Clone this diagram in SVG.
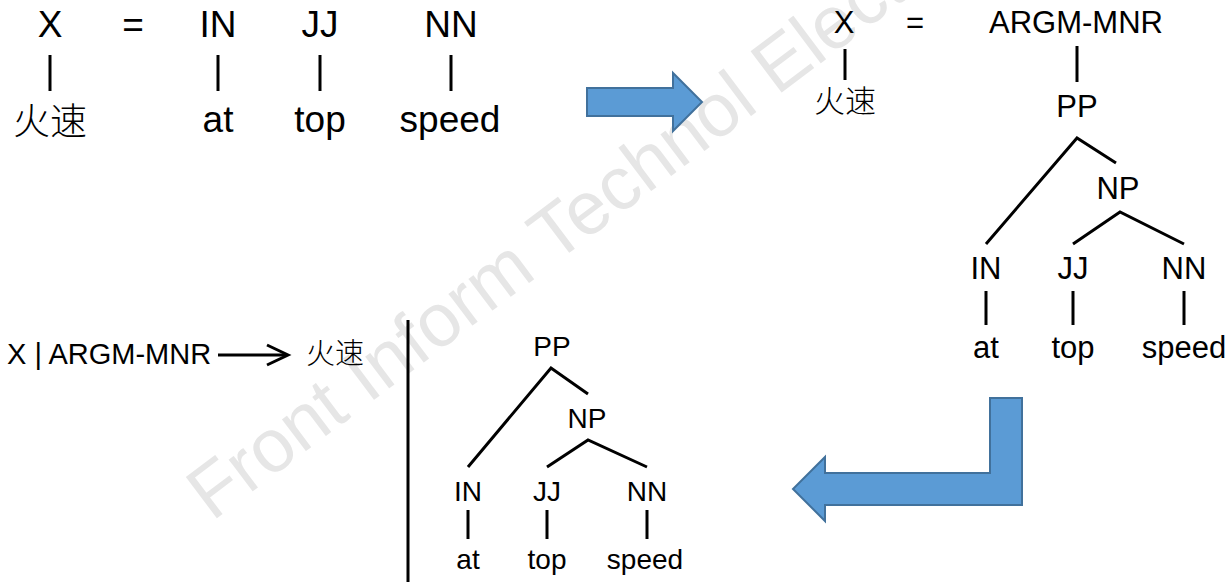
<svg xmlns="http://www.w3.org/2000/svg" width="1228" height="582" viewBox="0 0 1228 582">
<style>
.t{font-family:"Liberation Sans",Arial,"Noto Sans CJK SC",sans-serif;fill:#000;text-anchor:middle}
.cjk{font-family:"Noto Sans CJK SC","Liberation Sans",sans-serif;font-weight:300}
.big{font-size:37px}
.mid{font-size:31px}
.sm{font-size:28px}
.rule{font-size:29px;text-anchor:start}
.ln{stroke:#000;stroke-width:3;fill:none;stroke-linecap:butt}
.barrow{fill:#5b9bd5;stroke:#41719c;stroke-width:2}
.wm{font-family:"Liberation Sans",Arial,sans-serif;font-size:75px;fill:#e6e6e6}
</style>
<rect width="1228" height="582" fill="#fff"/>
<text class="wm" transform="translate(212,522) rotate(-37)">Front Inform Technol Electr</text>

<g id="top-left">
  <text class="t big" x="50" y="37">X</text>
  <text class="t big" x="133" y="37">=</text>
  <text class="t big" x="218" y="37">IN</text>
  <text class="t big" x="320" y="37">JJ</text>
  <text class="t big" x="451" y="37">NN</text>
  <text class="t big cjk" x="50" y="135">火速</text>
  <text class="t big" x="218" y="132">at</text>
  <text class="t big" x="320" y="132">top</text>
  <text class="t big" x="450" y="132">speed</text>
</g>

<g id="right-tree">
  <text class="t mid" x="844" y="33">X</text>
  <text class="t mid" x="915" y="33">=</text>
  <text class="t mid" x="1076" y="33">ARGM-MNR</text>
  <text class="t mid cjk" x="845" y="112">火速</text>
  <text class="t mid" x="1077" y="117">PP</text>
  <text class="t mid" x="1118" y="199">NP</text>
  <text class="t mid" x="986" y="279">IN</text>
  <text class="t mid" x="1073" y="279">JJ</text>
  <text class="t mid" x="1184" y="279">NN</text>
  <text class="t mid" x="986" y="358">at</text>
  <text class="t mid" x="1073" y="358">top</text>
  <text class="t mid" x="1184" y="358">speed</text>
</g>

<g id="rule">
  <text class="t rule" x="7" y="364">X | ARGM-MNR</text>
  <text class="t rule cjk" x="306" y="364">火速</text>
</g>

<g id="bottom-tree">
  <text class="t sm" x="552" y="356">PP</text>
  <text class="t sm" x="587" y="428">NP</text>
  <text class="t sm" x="468" y="501">IN</text>
  <text class="t sm" x="547" y="501">JJ</text>
  <text class="t sm" x="647" y="501">NN</text>
  <text class="t sm" x="468" y="569">at</text>
  <text class="t sm" x="547" y="569">top</text>
  <text class="t sm" x="645" y="569">speed</text>
</g>

<g id="arrows">
  <path id="arrow-right" class="barrow" d="M587,88 L673,88 L673,73 L702,102 L673,131 L673,116 L587,116 Z"/>
  <path id="arrow-bent" class="barrow" d="M1022,398 L990,398 L990,473 L825,473 L825,457 L793,489 L825,521 L825,505 L1022,505 Z"/>
</g>

<g id="connectors" class="ln">
  <line x1="50" y1="55" x2="50" y2="91"/>
  <line x1="218" y1="55" x2="218" y2="91"/>
  <line x1="320" y1="55" x2="320" y2="91"/>
  <line x1="451" y1="55" x2="451" y2="91"/>

  <line x1="845" y1="49" x2="845" y2="80"/>
  <line x1="1077" y1="46" x2="1077" y2="82"/>
  <polyline points="986,244 1077,138 1116,163"/>
  <polyline points="1073,244 1120,212 1184,244"/>
  <line x1="986" y1="291" x2="986" y2="325"/>
  <line x1="1073" y1="291" x2="1073" y2="325"/>
  <line x1="1184" y1="291" x2="1184" y2="325"/>

  <line x1="218" y1="355" x2="287" y2="355"/>
  <polyline points="267,345 288,355 267,365"/>
  <line x1="408" y1="320" x2="408" y2="582"/>

  <polyline points="468,467 551,368 588,394"/>
  <polyline points="547,467 588,440 647,467"/>
  <line x1="468" y1="510" x2="468" y2="539"/>
  <line x1="547" y1="510" x2="547" y2="539"/>
  <line x1="647" y1="510" x2="647" y2="539"/>
</g>
</svg>
